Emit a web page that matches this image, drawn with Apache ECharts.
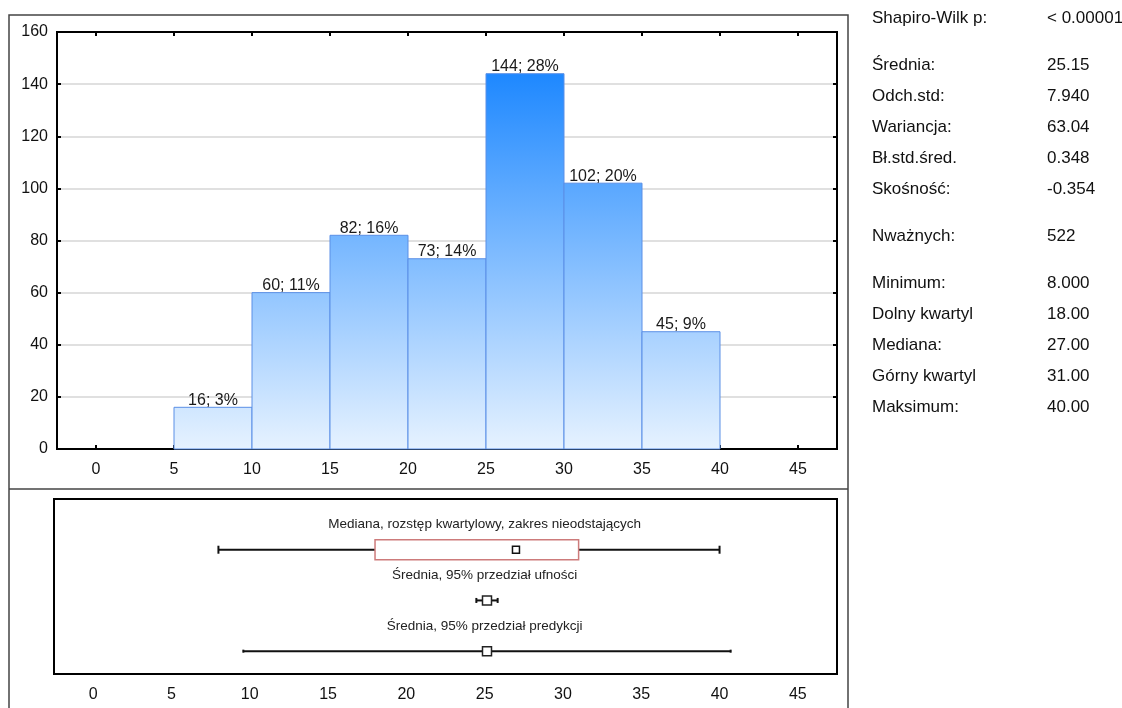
<!DOCTYPE html>
<html>
<head>
<meta charset="utf-8">
<script src="https://cdn.jsdelivr.net/npm/echarts@6.0.0/dist/echarts.min.js"></script>
<style>
  html, body { margin: 0; padding: 0; background: #fff; }
  #chart { width: 1122px; height: 708px; }
</style>
</head>
<body>
<div id="chart"></div>
<script>
// Histogram classes (lower and upper bound) and counts
const binStarts = [5, 10, 15, 20, 25, 30, 35];
const binEnds   = [10, 15, 20, 25, 30, 35, 40];
const counts    = [16, 60, 82, 73, 144, 102, 45];
const xTicks    = [0, 5, 10, 15, 20, 25, 30, 35, 40, 45];

// Box summary: min, lower quartile, median, upper quartile, max
const boxSummary = [8, 18, 27, 31, 40];
// Mean with 95% confidence interval and 95% prediction interval
const meanCI = [24.47, 25.15, 25.83];
const meanPI = [9.59, 25.15, 40.71];
const rowTitles = [
  'Mediana, rozstęp kwartylowy, zakres nieodstających',
  'Średnia, 95% przedział ufności',
  'Średnia, 95% przedział predykcji'
];

// Descriptive statistics table, in groups
const statGroups = [
  [['Shapiro-Wilk p:', '< 0.00001']],
  [['Średnia:', '25.15'], ['Odch.std:', '7.940'], ['Wariancja:', '63.04'],
   ['Bł.std.śred.', '0.348'], ['Skośność:', '-0.354']],
  [['Nważnych:', '522']],
  [['Minimum:', '8.000'], ['Dolny kwartyl', '18.00'], ['Mediana:', '27.00'],
   ['Górny kwartyl', '31.00'], ['Maksimum:', '40.00']]
];

const total = counts.reduce((a, b) => a + b, 0);
const maxCount = Math.max(...counts);
const FONT = 'Arial, "Liberation Sans", sans-serif';

const histData = binStarts.map((s, i) => [s, binEnds[i], counts[i]]);

// statistics text as graphic elements
const statGraphics = [];
let rowY = 17;
statGroups.forEach((group, gi) => {
  if (gi > 0) rowY += 16;
  group.forEach((row, ri) => {
    if (gi > 0 || ri > 0) rowY += 31;
    statGraphics.push({
      type: 'text', left: 872, top: rowY - 7,
      style: { text: row[0], font: '17px ' + FONT, fill: '#111' }
    });
    statGraphics.push({
      type: 'text', left: 1047, top: rowY - 7,
      style: { text: row[1], font: '17px ' + FONT, fill: '#111' }
    });
  });
});

const chart = echarts.init(document.getElementById('chart'), null, { renderer: 'canvas' });

const axisLabelBase = { color: '#111', fontSize: 16, fontFamily: FONT };
const frameLine = { show: true, onZero: false, lineStyle: { color: '#000', width: 2 } };

const option = {
  animation: false,
  backgroundColor: '#fff',
  grid: [
    { left: 57, top: 32, width: 780, height: 417, show: true, borderColor: '#000', borderWidth: 2, backgroundColor: 'transparent' },
    { left: 54, top: 499, width: 783, height: 175, show: true, borderColor: '#000', borderWidth: 2, backgroundColor: 'transparent' }
  ],
  xAxis: [
    {
      type: 'value', gridIndex: 0, position: 'bottom', min: -2.5, max: 47.5,
      axisLine: frameLine,
      axisTick: { show: true, inside: true, length: 4, customValues: xTicks, lineStyle: { color: '#000', width: 2 } },
      axisLabel: Object.assign({ customValues: xTicks, margin: 13 }, axisLabelBase),
      splitLine: { show: false }
    },
    {
      type: 'value', gridIndex: 0, position: 'top', min: -2.5, max: 47.5,
      axisLine: frameLine,
      axisTick: { show: true, inside: true, length: 4, customValues: xTicks, lineStyle: { color: '#000', width: 2 } },
      axisLabel: { show: false },
      splitLine: { show: false }
    },
    {
      type: 'value', gridIndex: 1, position: 'bottom', min: -2.5, max: 47.5,
      axisLine: frameLine,
      axisTick: { show: false },
      axisLabel: Object.assign({ customValues: xTicks, margin: 13 }, axisLabelBase),
      splitLine: { show: false }
    }
  ],
  yAxis: [
    {
      type: 'value', gridIndex: 0, position: 'left', min: 0, max: 160, interval: 20,
      axisLine: frameLine,
      axisTick: { show: true, inside: true, length: 4, lineStyle: { color: '#000', width: 2 } },
      axisLabel: Object.assign({ margin: 9 }, axisLabelBase),
      splitLine: { show: true, lineStyle: { color: '#d6d6d6', width: 1.5 } }
    },
    {
      type: 'value', gridIndex: 0, position: 'right', min: 0, max: 160, interval: 20,
      axisLine: frameLine,
      axisTick: { show: true, inside: true, length: 4, lineStyle: { color: '#000', width: 2 } },
      axisLabel: { show: false },
      splitLine: { show: false }
    },
    {
      type: 'value', gridIndex: 1, min: 0, max: 3.45, inverse: true, show: false
    }
  ],
  graphic: [
    // outer frame and panel divider
    {
      type: 'polyline', silent: true,
      shape: { points: [[9, 708], [9, 15], [848, 15], [848, 708]] },
      style: { stroke: '#444', lineWidth: 1.5, fill: null }
    },
    {
      type: 'line', silent: true,
      shape: { x1: 9, y1: 489, x2: 848, y2: 489 },
      style: { stroke: '#444', lineWidth: 1.5 }
    }
  ].concat(statGraphics),
  series: [
    {
      // histogram bars spanning each class interval
      type: 'custom', xAxisIndex: 0, yAxisIndex: 0,
      data: histData,
      renderItem: function (params, api) {
        const x0 = api.value(0), x1 = api.value(1), c = api.value(2);
        const pTop = api.coord([x0, c]);
        const pBot = api.coord([x1, 0]);
        const gTop = api.coord([0, maxCount])[1];
        const gBot = api.coord([0, 0])[1];
        const grad = new echarts.graphic.LinearGradient(0, gTop, 0, gBot, [
          { offset: 0, color: '#1e88ff' },
          { offset: 1, color: '#e6f2ff' }
        ], true);
        const pct = Math.round(c / total * 100);
        return {
          type: 'group',
          children: [
            {
              type: 'rect',
              shape: { x: pTop[0], y: pTop[1], width: pBot[0] - pTop[0], height: pBot[1] - pTop[1] },
              style: { fill: grad, stroke: '#5a8fe6', lineWidth: 1 }
            },
            {
              type: 'text',
              x: (pTop[0] + pBot[0]) / 2, y: pTop[1] + 1,
              style: { text: c + '; ' + pct + '%', align: 'center', verticalAlign: 'bottom', font: '16px ' + FONT, fill: '#1a1a1a' }
            }
          ]
        };
      }
    },
    {
      // median, quartile box and non-outlier range
      type: 'custom', xAxisIndex: 2, yAxisIndex: 2,
      data: [boxSummary],
      renderItem: function (params, api) {
        const row = 1;
        const pMin = api.coord([api.value(0), row]);
        const pQ1 = api.coord([api.value(1), row]);
        const pMed = api.coord([api.value(2), row]);
        const pQ3 = api.coord([api.value(3), row]);
        const pMax = api.coord([api.value(4), row]);
        const t = api.coord([25, row - 0.5]);
        const y = pMin[1];
        return {
          type: 'group',
          children: [
            { type: 'line', shape: { x1: pMin[0], y1: y, x2: pQ1[0], y2: y }, style: { stroke: '#111', lineWidth: 2 } },
            { type: 'line', shape: { x1: pQ3[0], y1: y, x2: pMax[0], y2: y }, style: { stroke: '#111', lineWidth: 2 } },
            { type: 'line', shape: { x1: pMin[0], y1: y - 4, x2: pMin[0], y2: y + 4 }, style: { stroke: '#111', lineWidth: 2 } },
            { type: 'line', shape: { x1: pMax[0], y1: y - 4, x2: pMax[0], y2: y + 4 }, style: { stroke: '#111', lineWidth: 2 } },
            { type: 'rect', shape: { x: pQ1[0], y: y - 10, width: pQ3[0] - pQ1[0], height: 20 }, style: { fill: '#fff', stroke: '#cd7b7b', lineWidth: 1.5 } },
            { type: 'rect', shape: { x: pMed[0] - 3.5, y: y - 3.5, width: 7, height: 7 }, style: { fill: '#fff', stroke: '#111', lineWidth: 1.5 } },
            { type: 'text', x: t[0], y: t[1], style: { text: rowTitles[0], align: 'center', verticalAlign: 'middle', font: '13.5px ' + FONT, fill: '#222' } }
          ]
        };
      }
    },
    {
      // mean with confidence and prediction intervals
      type: 'custom', xAxisIndex: 2, yAxisIndex: 2,
      data: [meanCI.concat([2, 2.5, 1]), meanPI.concat([3, 1.5, 2])],
      renderItem: function (params, api) {
        const row = api.value(3);
        const cap = api.value(4);
        const pLo = api.coord([api.value(0), row]);
        const pMean = api.coord([api.value(1), row]);
        const pHi = api.coord([api.value(2), row]);
        const t = api.coord([25, row - 0.5]);
        const y = pLo[1];
        return {
          type: 'group',
          children: [
            { type: 'line', shape: { x1: pLo[0], y1: y, x2: pHi[0], y2: y }, style: { stroke: '#111', lineWidth: 2 } },
            { type: 'line', shape: { x1: pLo[0], y1: y - cap, x2: pLo[0], y2: y + cap }, style: { stroke: '#111', lineWidth: 2 } },
            { type: 'line', shape: { x1: pHi[0], y1: y - cap, x2: pHi[0], y2: y + cap }, style: { stroke: '#111', lineWidth: 2 } },
            { type: 'rect', shape: { x: pMean[0] - 4.5, y: y - 4.5, width: 9, height: 9 }, style: { fill: '#fff', stroke: '#222', lineWidth: 1.5 } },
            { type: 'text', x: t[0], y: t[1], style: { text: rowTitles[api.value(5)], align: 'center', verticalAlign: 'middle', font: '13.5px ' + FONT, fill: '#222' } }
          ]
        };
      }
    }
  ]
};

chart.setOption(option);
</script>
</body>
</html>
